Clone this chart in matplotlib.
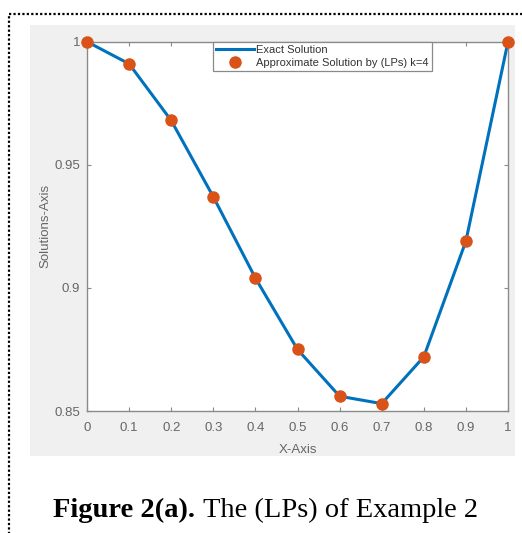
import matplotlib.pyplot as plt
from matplotlib.lines import Line2D
from matplotlib.patches import Rectangle

W, H = 522, 533

# data
x_vals = [0, 0.1, 0.2, 0.3, 0.4, 0.5, 0.6, 0.7, 0.8, 0.9, 1.0]
exact = [1.0, 0.991, 0.968, 0.937, 0.904, 0.875, 0.856, 0.853, 0.872, 0.919, 1.0]
approx = [1.0, 0.991, 0.968, 0.937, 0.904, 0.875, 0.856, 0.853, 0.872, 0.919, 1.0]
x_ticks = [0, 0.1, 0.2, 0.3, 0.4, 0.5, 0.6, 0.7, 0.8, 0.9, 1]
x_labels = ['0', '0.1', '0.2', '0.3', '0.4', '0.5', '0.6', '0.7', '0.8', '0.9', '1']
y_ticks = [0.85, 0.9, 0.95, 1.0]
y_labels = ['0.85', '0.9', '0.95', '1']

plt.rcParams['font.family'] = ['Liberation Sans', 'DejaVu Sans']

fig = plt.figure(figsize=(W / 100, H / 100), dpi=100)
fig.patch.set_facecolor('white')

def px(x, y):
    # pixel (from top left) -> figure fraction
    return x / W, 1 - y / H

# gray matlab figure area
x0, y0 = px(30, 456)
fig.patches.append(Rectangle((x0, y0), (515 - 30) / W, (456 - 25) / H,
                             transform=fig.transFigure, facecolor='#f0f0f0',
                             edgecolor='none', zorder=-2))

# dotted frame round the figure
bx, by = px(9, 14)
fig.lines.append(Line2D([bx, bx, 1.01], [-0.01, by, by], transform=fig.transFigure,
                        color='black', lw=1.6, linestyle=(0, (1, 1)), zorder=-1))

# axes
left, top = px(87, 41.7)
right, bottom = px(508, 411)
ax = fig.add_axes([left, bottom, right - left, top - bottom])
ax.set_facecolor('white')

ax.plot(x_vals, exact, color='#0072BD', lw=2.2, label='Exact Solution', zorder=2)
ax.plot(x_vals, approx, 'o', color='#D95319', markersize=8, clip_on=False,
        label='Approximate Solution by (LPs) k=4', zorder=3)

ax.set_xlim(0, 1)
ax.set_ylim(0.85, 1.0)
ax.set_xticks(x_ticks)
ax.set_xticklabels(x_labels)
ax.set_yticks(y_ticks)
ax.set_yticklabels(y_labels)

gray = '#666666'
for s in ax.spines.values():
    s.set_color('#8a8a8a')
    s.set_linewidth(1.0)
ax.tick_params(direction='in', length=3, width=0.8, color='#8a8a8a',
               top=True, right=True, labelsize=9.5, labelcolor=gray)
ax.tick_params(axis='x', pad=8)
ax.tick_params(axis='y', pad=5)

ax.set_xlabel('X-Axis', fontsize=9.5, color=gray, labelpad=7)
ax.set_ylabel('Solutions-Axis', fontsize=9.5, color=gray, labelpad=2)

leg = ax.legend(loc='upper left', bbox_to_anchor=((213 - 87) / 421, 1.0), borderaxespad=0,
                fontsize=8, fancybox=False, framealpha=1, edgecolor='#8a8a8a',
                handlelength=3.4, handletextpad=0.2, borderpad=0.3, labelspacing=0.25)
leg.get_frame().set_linewidth(0.9)
for t in leg.get_texts():
    t.set_color('#333333')

# caption
cx, cy = px(195, 517)
fig.text(cx, cy, 'Figure 2(a).', ha='right', va='baseline', fontsize=20.5,
         fontweight='bold', family='Liberation Serif', color='black')
cx2, _ = px(203, 517)
fig.text(cx2, cy, 'The (LPs) of Example 2', ha='left', va='baseline', fontsize=20.5,
         family='Liberation Serif', color='black')

fig.savefig('out.png', dpi=100)
